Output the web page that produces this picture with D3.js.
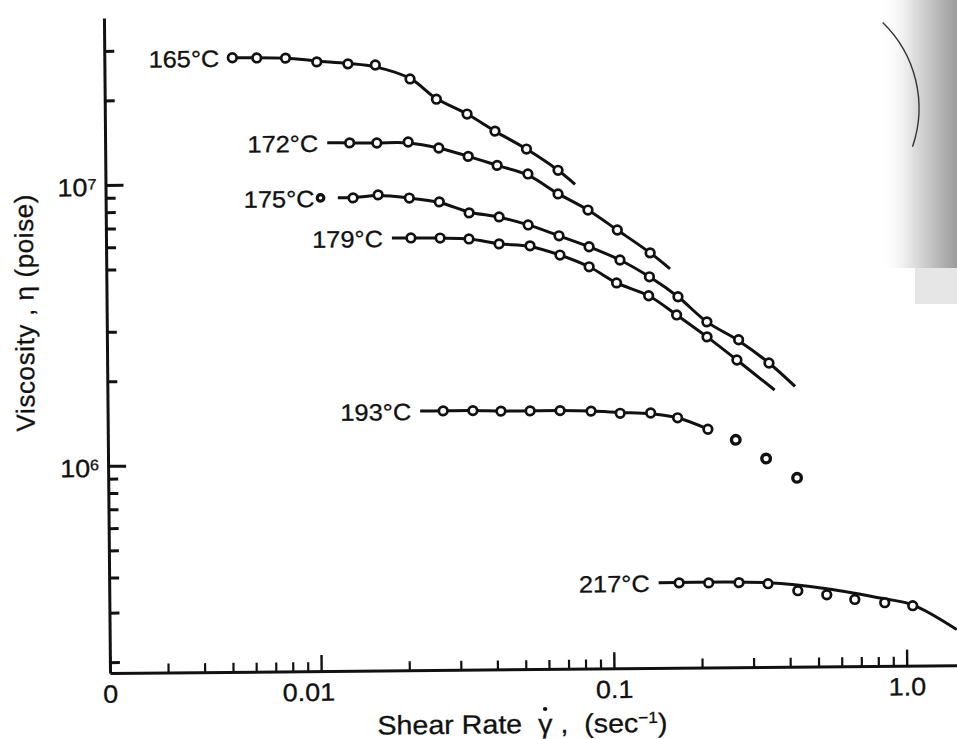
<!DOCTYPE html>
<html>
<head>
<meta charset="utf-8">
<title>Viscosity vs shear rate</title>
<script src="https://d3js.org/d3.v7.min.js"></script>
<style>
  body { margin: 0; background: #fff; }
  svg { display: block; font-family: "Liberation Sans", Arial, Helvetica, sans-serif; }
  svg text { stroke: #111; stroke-width: 0.3px; white-space: pre; }
</style>
</head>
<body>
<script>
// shear rate (1/s) and viscosity (poise)
var rate165 = [0.0052, 0.0063, 0.0079, 0.0101, 0.0129, 0.0160, 0.0210, 0.0258, 0.0328, 0.0408, 0.0522, 0.0668];
var eta165  = [2.81e7, 2.80e7, 2.79e7, 2.70e7, 2.65e7, 2.62e7, 2.33e7, 1.97e7, 1.74e7, 1.51e7, 1.30e7, 1.09e7];
var rate172 = [0.0130, 0.0161, 0.0206, 0.0262, 0.0330, 0.0414, 0.0527, 0.0667, 0.0843, 0.106, 0.137];
var eta172  = [1.386e7, 1.382e7, 1.39e7, 1.32e7, 1.23e7, 1.14e7, 1.06e7, 8.98e6, 7.85e6, 6.65e6, 5.50e6];
var rate175 = [0.0133, 0.0162, 0.0207, 0.0262, 0.0331, 0.0419, 0.0526, 0.0670, 0.0848, 0.108, 0.136, 0.170, 0.213, 0.273, 0.346];
var eta175  = [8.83e6, 9.03e6, 8.78e6, 8.49e6, 7.74e6, 7.47e6, 6.98e6, 6.37e6, 5.81e6, 5.20e6, 4.52e6, 3.83e6, 3.11e6, 2.68e6, 2.21e6];
var rate179 = [0.0209, 0.0263, 0.0330, 0.0418, 0.0533, 0.0674, 0.0847, 0.105, 0.135, 0.168, 0.213, 0.269];
var eta179  = [6.33e6, 6.31e6, 6.25e6, 5.99e6, 5.88e6, 5.44e6, 4.93e6, 4.31e6, 3.87e6, 3.30e6, 2.75e6, 2.27e6];
var rate193 = [0.0266, 0.0336, 0.0419, 0.0527, 0.0667, 0.0851, 0.107, 0.136, 0.168, 0.213, 0.265, 0.336, 0.428];
var eta193  = [1.53e6, 1.53e6, 1.52e6, 1.52e6, 1.52e6, 1.51e6, 1.48e6, 1.48e6, 1.42e6, 1.29e6, 1.18e6, 1.01e6, 8.6e5];
var rate217 = [0.168, 0.212, 0.269, 0.338, 0.427, 0.536, 0.668, 0.845, 1.053];
var eta217  = [3.67e5, 3.66e5, 3.66e5, 3.62e5, 3.41e5, 3.29e5, 3.16e5, 3.07e5, 2.99e5];

// lone point left of the 175 curve
var rate175Lone = [0.0103];
var eta175Lone  = [8.85e6];

// drawn (fitted) curves
var fitRate165 = [0.0052, 0.0079, 0.0101, 0.0129, 0.0160, 0.0210, 0.0258, 0.0328, 0.0408, 0.0522, 0.0668, 0.0763];
var fitEta165  = [2.81e7, 2.79e7, 2.72e7, 2.66e7, 2.58e7, 2.34e7, 1.98e7, 1.74e7, 1.51e7, 1.30e7, 1.09e7, 9.7e6];
var fitRate172 = [0.0109, 0.0130, 0.0161, 0.0206, 0.0262, 0.0330, 0.0414, 0.0527, 0.0667, 0.0843, 0.106, 0.137, 0.160];
var fitEta172  = [1.39e7, 1.386e7, 1.383e7, 1.38e7, 1.32e7, 1.23e7, 1.14e7, 1.05e7, 9.0e6, 7.85e6, 6.65e6, 5.5e6, 4.82e6];
var fitRate175 = [0.0118, 0.0133, 0.0162, 0.0207, 0.0262, 0.0331, 0.0419, 0.0526, 0.0670, 0.0848, 0.108, 0.136, 0.170, 0.213, 0.273, 0.346, 0.424];
var fitEta175  = [8.84e6, 8.85e6, 8.98e6, 8.78e6, 8.45e6, 7.8e6, 7.45e6, 6.98e6, 6.37e6, 5.81e6, 5.20e6, 4.52e6, 3.83e6, 3.11e6, 2.66e6, 2.21e6, 1.82e6];
var fitRate179 = [0.0180, 0.0209, 0.0263, 0.0330, 0.0418, 0.0533, 0.0674, 0.0847, 0.105, 0.135, 0.168, 0.213, 0.269, 0.361];
var fitEta179  = [6.34e6, 6.33e6, 6.31e6, 6.25e6, 6.0e6, 5.85e6, 5.44e6, 4.93e6, 4.31e6, 3.87e6, 3.30e6, 2.75e6, 2.27e6, 1.77e6];
var fitRate193 = [0.0222, 0.0266, 0.0336, 0.0419, 0.0527, 0.0667, 0.0851, 0.107, 0.136, 0.168, 0.213];
var fitEta193  = [1.53e6, 1.53e6, 1.53e6, 1.52e6, 1.52e6, 1.52e6, 1.51e6, 1.49e6, 1.47e6, 1.42e6, 1.29e6];
var fitRate217 = [0.143, 0.338, 0.536, 0.845, 1.053, 1.486];
var fitEta217  = [3.68e5, 3.65e5, 3.46e5, 3.17e5, 3.01e5, 2.45e5];

var temps = ["165°C", "172°C", "175°C", "179°C", "193°C", "217°C"];

// axis ticks
var xMajor = [0.0019, 0.01, 0.1, 1.0];
var xLabels = ["0", "0.01", "0.1", "1.0"];
var xMinor = [0.003, 0.004, 0.005, 0.006, 0.007, 0.008, 0.009,
              0.02, 0.03, 0.04, 0.05, 0.06, 0.07, 0.08, 0.09,
              0.2, 0.3, 0.4, 0.5, 0.6, 0.7, 0.8, 0.9];
var yMajor = [1e6, 1e7];
var yLabels = ["10^6", "10^7"];
var yMinor = [2e5, 3e5, 4e5, 5e5, 6e5, 7e5, 8e5, 9e5,
              2e6, 3e6, 5e6, 6e6, 7e6, 8e6, 9e6, 2e7, 3e7];

var w = 957, h = 739;
var ink = "#111";
var wide = 1.08;   // the scan is a little stretched sideways

var x = d3.scaleLog().domain([0.0019, 1.52]).range([110, 960]);
var y = d3.scaleLog().domain([1.83e5, 3.93e7]).range([673, 18]);

// stretch text horizontally without moving its anchor
function widen(sel) {
    sel.each(function () {
        var t = d3.select(this);
        var xx = +t.attr("x") || 0;
        t.attr("x", xx / wide).attr("transform", "scale(" + wide + ",1)");
    });
}

var svg = d3.select("body").append("svg").attr("width", w).attr("height", h);

// scan artifacts: dark page edge and an arc showing through
var grad = svg.append("defs").append("linearGradient").attr("id", "edge");
grad.append("stop").attr("offset", "0").attr("stop-color", "#fff").attr("stop-opacity", 0);
grad.append("stop").attr("offset", "0.45").attr("stop-color", "#ddd").attr("stop-opacity", 1);
grad.append("stop").attr("offset", "1").attr("stop-color", "#9a9a9a").attr("stop-opacity", 1);
svg.append("rect").attr("x", 880).attr("y", 0).attr("width", 77).attr("height", 268).attr("fill", "url(#edge)");
svg.append("rect").attr("x", 915).attr("y", 268).attr("width", 42).attr("height", 36).attr("fill", "#e6e6e6");

var p = d3.path();
p.arc(800, 108, 119, -46 * Math.PI / 180, 19 * Math.PI / 180);
svg.append("path").attr("d", p.toString()).attr("fill", "none").attr("stroke", "#333").attr("stroke-width", 1.4);

// the whole figure is slightly tilted in the scan
var plot = svg.append("g").attr("transform", "rotate(-0.53,110,673)");

// x axis
plot.append("g")
    .attr("transform", "translate(0,673)")
    .call(d3.axisBottom(x).tickValues(xMinor).tickSize(-9).tickFormat(""))
    .call(function (g) {
        g.select(".domain").remove();
        g.selectAll(".tick line").attr("stroke", ink).attr("stroke-width", 2.2);
    });

var xAxis = plot.append("g")
    .attr("transform", "translate(0,673)")
    .call(d3.axisBottom(x).tickValues(xMajor).tickSizeInner(-16).tickSizeOuter(0)
        .tickPadding(12).tickFormat(function (d, i) { return xLabels[i]; }));
xAxis.attr("font-family", null);
xAxis.select(".domain").attr("stroke", ink).attr("stroke-width", 3);
xAxis.selectAll(".tick line").attr("stroke", ink).attr("stroke-width", 2.4);
xAxis.selectAll(".tick text")
    .attr("fill", ink)
    .attr("font-size", 25)
    .attr("x", function (d) { return d === 0.01 ? -13 : 0; })
    .call(widen);

// y axis
plot.append("g")
    .attr("transform", "translate(110,0)")
    .call(d3.axisLeft(y).tickValues(yMinor).tickSize(-10).tickFormat(""))
    .call(function (g) {
        g.select(".domain").remove();
        g.selectAll(".tick line").attr("stroke", ink).attr("stroke-width", 3);
    });

var yAxis = plot.append("g")
    .attr("transform", "translate(110,0)")
    .call(d3.axisLeft(y).tickValues(yMajor).tickSizeInner(-18).tickSizeOuter(0)
        .tickPadding(9).tickFormat(""));
yAxis.attr("font-family", null);
yAxis.select(".domain").attr("stroke", ink).attr("stroke-width", 3);
yAxis.selectAll(".tick line").attr("stroke", ink).attr("stroke-width", 3);
yAxis.selectAll(".tick text")
    .attr("fill", ink)
    .attr("font-size", 25)
    .attr("dy", "0.42em")
    .each(function (d, i) {
        var parts = yLabels[i].split("^");
        var t = d3.select(this);
        t.append("tspan").text(parts[0]);
        t.append("tspan").attr("dy", "-0.45em").attr("font-size", 15).text(parts[1]);
    })
    .call(widen);

// axis titles
var titleGroup = plot.append("g").attr("transform", "scale(" + wide + ",1)");
var xTitle = titleGroup.append("text")
    .attr("x", 522 / wide).attr("y", 737)
    .attr("text-anchor", "middle")
    .attr("font-size", 26.5)
    .attr("fill", ink);
xTitle.append("tspan").text("Shear Rate  γ ,  (sec");
xTitle.append("tspan").attr("dy", -9).attr("font-size", 16).text("−1");
xTitle.append("tspan").attr("dy", 9).text(")");

// dot over the gamma (shear-rate symbol)
var gam = xTitle.node().getExtentOfChar(12);
titleGroup.append("circle")
    .attr("cx", gam.x + gam.width / 2)
    .attr("cy", 737 - 24)
    .attr("r", 2.1)
    .attr("fill", ink);

plot.append("text")
    .attr("transform", "translate(37,312) rotate(-90)")
    .attr("text-anchor", "middle")
    .attr("font-size", 26)
    .attr("letter-spacing", 0.6)
    .attr("fill", ink)
    .text("Viscosity , η (poise)");

// curves and points
var series = [
    { label: temps[0], rate: rate165, eta: eta165, fitRate: fitRate165, fitEta: fitEta165 },
    { label: temps[1], rate: rate172, eta: eta172, fitRate: fitRate172, fitEta: fitEta172 },
    { label: temps[2], rate: rate175, eta: eta175, fitRate: fitRate175, fitEta: fitEta175 },
    { label: temps[3], rate: rate179, eta: eta179, fitRate: fitRate179, fitEta: fitEta179 },
    { label: temps[4], rate: rate193, eta: eta193, fitRate: fitRate193, fitEta: fitEta193 },
    { label: temps[5], rate: rate217, eta: eta217, fitRate: fitRate217, fitEta: fitEta217 }
];

var line = d3.line()
    .x(function (d) { return x(d[0]); })
    .y(function (d) { return y(d[1]); })
    .curve(d3.curveCatmullRom.alpha(0.5));

series.forEach(function (s, k) {
    var fit = s.fitRate.map(function (r, i) { return [r, s.fitEta[i]]; });
    var pts = s.rate.map(function (r, i) { return [r, s.eta[i]]; });
    var lastFit = s.fitRate[s.fitRate.length - 1];

    plot.append("path")
        .attr("d", line(fit))
        .attr("fill", "none")
        .attr("stroke", ink)
        .attr("stroke-width", 3);

    plot.append("g").selectAll("circle")
        .data(pts)
        .enter()
        .append("circle")
        .attr("cx", function (d) { return x(d[0]); })
        .attr("cy", function (d) { return y(d[1]); })
        .attr("r", 4.3)
        .attr("fill", "#fff")
        .attr("stroke", ink)
        // points past the end of the curve are printed heavier
        .attr("stroke-width", function (d) { return d[0] > lastFit ? 3.4 : 2.7; });

    // label sits left of where the curve starts
    var lx = x(s.fitRate[0]) - 9;
    var ly = y(s.fitEta[0]);
    if (k === 0) lx = x(s.fitRate[0]) - 13;
    if (k === 2) lx = x(rate175Lone[0]) - 6;
    plot.append("text")
        .attr("x", lx)
        .attr("y", ly + 9)
        .attr("text-anchor", "end")
        .attr("font-size", 23.5)
        .attr("fill", ink)
        .text(s.label)
        .call(widen);
});

plot.selectAll(".lone")
    .data(rate175Lone)
    .enter()
    .append("circle")
    .attr("class", "lone")
    .attr("cx", function (d) { return x(d); })
    .attr("cy", function (d, i) { return y(eta175Lone[i]); })
    .attr("r", 3.3)
    .attr("fill", "#fff")
    .attr("stroke", ink)
    .attr("stroke-width", 3.2);
</script>
</body>
</html>
